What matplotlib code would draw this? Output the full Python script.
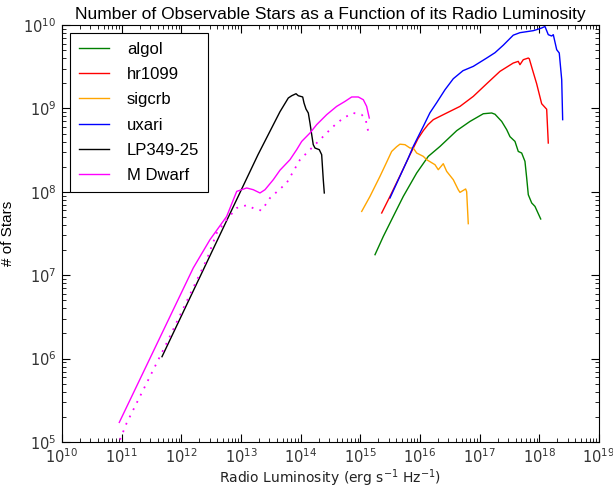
import numpy as np
import matplotlib
matplotlib.use('Agg')
import matplotlib.pyplot as plt
from matplotlib.ticker import LogLocator, NullFormatter

# values, as log10(L) and log10(N)
algol_x = [15.246, 15.385, 15.552, 15.720, 15.944, 16.139, 16.335, 16.615, 16.838, 17.061,
           17.201, 17.257, 17.369, 17.453, 17.508, 17.592, 17.647, 17.704, 17.759, 17.788,
           17.815, 17.872, 17.927, 18.023]
algol_y = [7.246, 7.465, 7.705, 7.945, 8.225, 8.425, 8.544, 8.733, 8.844, 8.936,
           8.945, 8.930, 8.844, 8.745, 8.661, 8.604, 8.484, 8.465, 8.365, 8.166,
           7.965, 7.866, 7.825, 7.674]

hr1099_x = [15.358, 15.497, 15.665, 15.832, 15.966, 16.055, 16.134, 16.223, 16.447, 16.670,
            16.893, 17.118, 17.340, 17.563, 17.647, 17.675, 17.731, 17.815, 17.831, 17.885,
            17.955, 18.039, 18.123, 18.150]
hr1099_y = [7.746, 7.945, 8.193, 8.445, 8.637, 8.733, 8.805, 8.865, 8.945, 9.024,
            9.144, 9.296, 9.444, 9.544, 9.564, 9.524, 9.584, 9.604, 9.596, 9.464,
            9.296, 9.056, 8.990, 8.585]

sigcrb_x = [15.023, 15.162, 15.274, 15.329, 15.441, 15.525, 15.609, 15.664, 15.748, 15.832,
            15.887, 15.944, 16.055, 16.112, 16.251, 16.306, 16.390, 16.447, 16.558, 16.641,
            16.670, 16.765, 16.782, 16.809]
sigcrb_y = [7.765, 7.945, 8.106, 8.185, 8.355, 8.484, 8.541, 8.571, 8.565, 8.525,
            8.525, 8.465, 8.425, 8.385, 8.325, 8.265, 8.337, 8.245, 8.145, 8.025,
            7.993, 8.034, 8.001, 7.618]

uxari_x = [15.497, 15.804, 15.887, 16.055, 16.167, 16.279, 16.419, 16.558, 16.720, 16.893,
           17.118, 17.257, 17.396, 17.563, 17.675, 17.788, 17.898, 17.955, 18.039, 18.094,
           18.150, 18.207, 18.234, 18.291, 18.334, 18.375, 18.391]
uxari_y = [7.926, 8.405, 8.544, 8.784, 8.948, 9.068, 9.224, 9.356, 9.452, 9.504,
           9.604, 9.668, 9.758, 9.878, 9.908, 9.920, 9.932, 9.944, 9.964, 9.983,
           9.884, 9.868, 9.884, 9.704, 9.664, 9.344, 8.865]

lp_x = [11.676, 12.313, 13.285, 13.653, 13.793, 13.850, 13.922, 13.960, 14.000, 14.034,
        14.056, 14.089, 14.128, 14.156, 14.185, 14.211, 14.240, 14.312, 14.352, 14.379,
        14.396]
lp_y = [6.023, 6.982, 8.445, 8.960, 9.125, 9.152, 9.176, 9.152, 9.144, 9.137,
        9.065, 8.993, 8.945, 8.825, 8.685, 8.565, 8.525, 8.505, 8.445, 8.145,
        7.986]

mdwarf_x = [10.960, 12.200, 12.480, 12.760, 12.928, 13.095, 13.206, 13.318, 13.402, 13.541,
            13.653, 13.821, 13.933, 14.017, 14.156, 14.268, 14.436, 14.603, 14.743, 14.855,
            14.966, 15.050, 15.106, 15.150]
mdwarf_y = [5.235, 7.087, 7.426, 7.705, 8.005, 8.046, 8.025, 7.986, 8.025, 8.145,
            8.259, 8.385, 8.505, 8.604, 8.705, 8.805, 8.925, 9.024, 9.084, 9.137,
            9.137, 9.104, 9.024, 8.885]

mdwarf2_x = [10.972, 11.084, 11.755, 12.425, 12.593, 12.760, 12.928, 13.095, 13.263, 13.347,
             13.486, 13.766, 13.989, 14.211, 14.379, 14.547, 14.714, 14.882, 15.022, 15.094,
             15.106, 15.150]
mdwarf2_y = [5.028, 5.228, 6.187, 7.186, 7.506, 7.666, 7.806, 7.839, 7.785, 7.777,
             7.926, 8.106, 8.385, 8.544, 8.664, 8.784, 8.885, 8.945, 8.925, 8.865,
             8.784, 8.697]

series = [
    (algol_x, algol_y, 'green', 'algol'),
    (hr1099_x, hr1099_y, 'red', 'hr1099'),
    (sigcrb_x, sigcrb_y, 'orange', 'sigcrb'),
    (uxari_x, uxari_y, 'blue', 'uxari'),
    (lp_x, lp_y, 'black', 'LP349-25'),
    (mdwarf_x, mdwarf_y, 'magenta', 'M Dwarf'),
]

fig = plt.figure(figsize=(6.13, 4.87), dpi=100)
ax = fig.add_axes([62 / 613, 1 - 442 / 487, 537 / 613, 417 / 487])

for xs, ys, c, lab in series:
    ax.plot(10 ** np.array(xs), 10 ** np.array(ys), color=c, lw=1.0, label=lab)
ax.plot(10 ** np.array(mdwarf2_x), 10 ** np.array(mdwarf2_y), color='magenta',
        lw=1.3, ls=(0, (1, 3.5)))

ax.set_xscale('log')
ax.set_yscale('log')
ax.set_xlim(1e10, 1e19)
ax.set_ylim(1e5, 1e10)
for a in (ax.xaxis, ax.yaxis):
    a.set_major_locator(LogLocator(base=10, numticks=20))
    a.set_minor_locator(LogLocator(base=10, subs=np.arange(2, 10), numticks=200))
    a.set_minor_formatter(NullFormatter())
ax.tick_params(which='both', direction='in', top=True, right=True, labelsize=10.5,
               labelcolor='#333333', pad=4)
ax.tick_params(which='major', length=6)
ax.tick_params(which='minor', length=3)

ax.set_title('Number of Observable Stars as a Function of its Radio Luminosity',
             family='Liberation Sans', fontsize=12.5, pad=4)
ax.set_xlabel('Radio Luminosity (erg s$^{-1}$ Hz$^{-1}$)', fontsize=10, color='#222222',
              labelpad=0.5)
ax.set_ylabel('# of Stars', family='Liberation Sans', fontsize=11, labelpad=6)

leg = ax.legend(loc='upper left', prop={'family': 'Liberation Sans', 'size': 12},
                fancybox=False, edgecolor='black', framealpha=1,
                handlelength=1.8, handletextpad=1.1, labelspacing=0.62,
                borderaxespad=0.5, borderpad=0.5)
leg.get_frame().set_linewidth(0.8)

fig.savefig('out.png', dpi=100)
